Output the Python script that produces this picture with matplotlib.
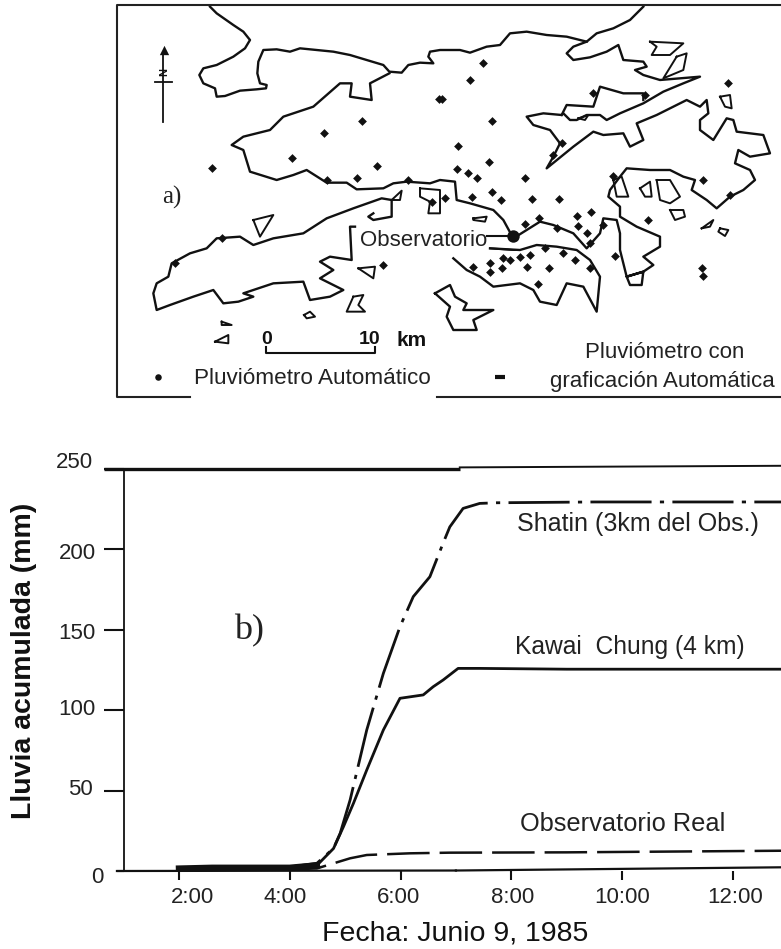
import numpy as np
import matplotlib
matplotlib.use("Agg")
import matplotlib.pyplot as plt
from matplotlib.transforms import ScaledTranslation

plt.rcParams['font.family'] = ['Liberation Sans', 'DejaVu Sans']

# rain curves, hours / mm
shatin_t = [2.0, 2.6, 3.4, 4.0, 4.49, 4.79, 4.91, 5.09, 5.39, 5.69, 5.99, 6.23, 6.53, 6.77, 6.89, 7.13, 7.43, 7.73, 9.5, 11.0, 12.87]
shatin_y = [2, 2.5, 2.5, 2.5, 4.8, 14.1, 23.4, 44.2, 87.7, 122.9, 151.9, 170.6, 183, 204, 214, 225.5, 228.6, 229, 229.5, 229.5, 229.5]
kawai_t = [2.0, 2.6, 3.4, 4.0, 4.49, 4.79, 4.97, 5.15, 5.39, 5.69, 5.99, 6.41, 6.59, 6.77, 7.04, 7.43, 9.0, 12.87]
kawai_y = [1.5, 2, 2, 2, 3.5, 14, 27.6, 42.1, 62.8, 87.7, 107.4, 109.5, 114.6, 118.8, 126, 126, 125.5, 125.5]
obs_t = [2.0, 3.0, 4.0, 4.49, 5.09, 5.39, 6.17, 6.89, 9.0, 12.87]
obs_y = [1, 1, 1, 1.6, 7.9, 9.95, 11, 11.4, 11.6, 12.6]

yticks = [0, 50, 100, 150, 200, 250]
xticks = [2, 4, 6, 8, 10, 12]
xlabels = ['2:00', '4:00', '6:00', '8:00', '10:00', '12:00']
xlabel_shift = [14, -5, -2, 1, 0, 2]
ylabel_shift = [(8, -4), (-3, 4), (0, 3), (0, -1), (0, -2), (-3, 9)]

# map outlines, traced on two 3x crops of the map (left crop / right crop)
main1 = [(330, 20), (350, 40), (400, 75), (430, 95), (450, 120), (435, 145), (400, 170), (350, 195), (310, 205), (298, 225),
         (310, 250), (345, 265), (350, 290), (375, 288), (420, 272), (470, 268), (498, 265), (500, 255), (480, 250), (472, 220),
         (475, 185), (490, 150), (530, 148), (570, 155), (600, 145), (650, 150), (700, 155), (750, 165), (800, 180), (850, 195),
         (868, 215), (905, 218), (925, 195), (960, 188), (1000, 190), (985, 170), (990, 155), (1020, 150)]
main2 = [(90, 150), (120, 158), (170, 140), (210, 135), (240, 100), (290, 95), (350, 105), (410, 110), (470, 125), (500, 100),
         (550, 85), (600, 60), (640, 20)]
inlet2 = [(470, 125), (430, 140), (410, 160), (430, 180), (480, 172), (530, 155), (565, 135), (580, 180), (640, 185), (650, 200),
          (615, 210), (640, 225), (690, 240), (810, 230), (760, 250), (700, 275), (640, 310), (570, 340), (530, 360), (510, 345),
          (470, 345), (440, 360), (420, 360), (400, 340), (395, 345), (340, 340), (290, 350), (310, 375), (360, 390), (390, 430),
          (370, 470), (350, 505), (430, 440), (490, 395), (520, 405), (580, 400), (600, 440), (640, 420), (620, 370), (680, 345),
          (770, 300), (810, 320), (830, 300), (835, 340), (810, 360), (810, 390), (850, 420), (890, 355), (910, 360), (920, 395),
          (1000, 405), (1020, 460), (960, 470), (925, 450), (915, 490), (960, 510), (975, 540), (940, 570), (900, 590), (860, 625),
          (830, 600), (785, 570), (795, 540), (760, 530), (720, 510), (660, 510), (590, 505), (570, 530), (540, 570), (535, 590),
          (570, 620), (570, 650), (620, 680), (690, 710), (690, 740), (640, 770), (670, 795), (640, 815), (590, 830), (600, 855),
          (635, 855), (640, 815)]
upper2 = [(395, 345), (410, 315), (490, 320), (510, 260), (580, 280), (640, 280), (640, 300)]
south2 = [(590, 830), (570, 750), (570, 700), (560, 660), (520, 655), (510, 700), (470, 745), (430, 700), (370, 675), (330, 665),
          (290, 690), (250, 715), (220, 660), (190, 630), (120, 610), (80, 600), (75, 545), (30, 540), (0, 550)]
south1 = [(920, 545), (880, 550), (850, 565), (770, 568), (740, 548), (680, 548), (620, 510), (580, 525), (530, 540), (450, 515),
          (430, 450), (395, 435), (430, 410), (510, 390), (550, 350), (640, 320), (720, 250), (755, 250), (750, 290), (815, 300),
          (810, 250), (868, 220)]
lantau1 = [(820, 640), (805, 650), (820, 660), (875, 650), (875, 600), (845, 595), (760, 625), (680, 655), (610, 700), (520, 715),
           (460, 735), (420, 710), (350, 715), (320, 745), (270, 760), (215, 790), (205, 830), (170, 850), (160, 880), (170, 930),
           (210, 915), (280, 890), (340, 870), (370, 910), (415, 905), (460, 890), (430, 880), (520, 850), (610, 845), (630, 900),
           (690, 890), (730, 870), (660, 835), (700, 810), (660, 785), (690, 770), (755, 780), (750, 680), (765, 680)]
hkisland2 = [(70, 775), (110, 810), (150, 830), (190, 860), (270, 850), (310, 870), (330, 905), (380, 915), (410, 850), (460, 860),
             (500, 935), (510, 830), (480, 780), (440, 750), (380, 740), (320, 735), (270, 750), (180, 745)]
lamma2 = [(15, 880), (60, 855), (75, 890), (110, 910), (100, 930), (190, 930), (130, 960), (140, 990), (70, 990), (50, 950),
          (60, 920), (15, 880)]
islands1 = [[(460, 660), (520, 645), (480, 710), (460, 660)],
            [(775, 805), (825, 800), (820, 835), (775, 805)],
            [(612, 945), (630, 935), (645, 950), (620, 955), (612, 945)],
            [(760, 890), (790, 885), (775, 915), (795, 935), (740, 935), (760, 890)],
            [(345, 1025), (385, 1005), (385, 1030), (345, 1025)],
            [(365, 965), (395, 975), (365, 975), (365, 965)],
            [(875, 600), (905, 572), (900, 600), (875, 600)],
            [(960, 565), (1020, 570), (1020, 640), (985, 640), (990, 605), (960, 590), (960, 565)]]
islands2 = [[(130, 655), (170, 650), (165, 665), (130, 660), (130, 655)],
            [(630, 565), (660, 545), (665, 590), (645, 590), (630, 565)],
            [(680, 540), (720, 540), (750, 590), (720, 610), (690, 600), (680, 540)],
            [(720, 630), (760, 630), (765, 650), (735, 660), (720, 630)],
            [(815, 685), (850, 660), (840, 680), (815, 685)],
            [(870, 685), (895, 690), (885, 708), (865, 695), (870, 685)],
            [(870, 290), (900, 285), (905, 325), (885, 320), (870, 290)],
            [(660, 125), (760, 130), (720, 165), (665, 165), (680, 140), (660, 125)],
            [(740, 170), (770, 160), (760, 210), (700, 235), (740, 170)],
            [(550, 540), (575, 530), (595, 590), (560, 590), (550, 540)],
            [(445, 355), (475, 345), (465, 360), (445, 355)],
            [(180, 745), (250, 750), (270, 750)]]

stations1 = [(785, 362), (672, 400), (575, 475), (830, 497), (770, 535), (680, 540), (925, 540), (995, 605), (1018, 297), (335, 503),
             (225, 790), (365, 715), (848, 795)]
stations2 = [(160, 190), (120, 240), (35, 297), (185, 362), (85, 437), (178, 487), (80, 507), (115, 518), (140, 535), (285, 535),
             (185, 577), (125, 590), (212, 600), (305, 597), (388, 597), (45, 595), (440, 648), (482, 635), (328, 653), (285, 672),
             (380, 685), (445, 678), (470, 700), (520, 675), (480, 730), (655, 660), (550, 527), (818, 540), (900, 585), (395, 430),
             (370, 465), (345, 745), (398, 760), (435, 780), (480, 805), (358, 803), (292, 800), (220, 775), (240, 780), (270, 770),
             (300, 765), (180, 790), (180, 815), (130, 800), (215, 805), (325, 853), (555, 768), (815, 805), (818, 828), (490, 278),
             (645, 285), (893, 248)]


def z1(pts):
    return [(x / 3 + 100, y / 3) for x, y in pts]


def z2(pts):
    return [(x / 3 + 430, y / 3) for x, y in pts]


def outline(ax, pts, lw=1.7):
    a = np.array(pts)
    ax.plot(a[:, 0], a[:, 1], color='#111111', lw=lw, solid_joinstyle='round')


fig = plt.figure(figsize=(7.81, 9.49), dpi=100)

# panel a: drawn in image pixels
m = fig.add_axes([0, 0, 1, 1])
m.set_xlim(0, 781)
m.set_ylim(949, 0)
m.axis('off')

outline(m, z1(main1) + z2(main2))
outline(m, z2(inlet2) + z2(south2) + z1(south1))
outline(m, z2(upper2))
outline(m, z1(lantau1))
outline(m, z2(hkisland2))
outline(m, z2(lamma2))
for isl in islands1:
    outline(m, z1(isl), 1.4)
for isl in islands2:
    outline(m, z2(isl), 1.4)

st = np.array(z1(stations1) + z2(stations2))
m.scatter(st[:, 0], st[:, 1], s=20, color='#111111', marker='D', linewidths=0)
m.scatter([513], [236], s=80, color='#111111', marker='o', linewidths=0)

# frame with the gap under the legend
m.plot([190, 117, 117, 781], [397, 397, 5, 5], color='#222222', lw=1.5)
m.plot([437, 781], [397, 397], color='#222222', lw=1.5)

# north arrow and scale
m.plot([163, 163], [52, 122], color='#111111', lw=1.3)
m.plot([155, 172], [82, 82], color='#111111', lw=1.3)
m.scatter([164], [50], marker='^', s=45, color='#111111', linewidths=0)
m.text(164, 72, 'N', rotation=90, ha='center', va='center', fontsize=8, weight='bold', color='#111111')
m.plot([266, 266, 375, 375], [347, 353, 353, 347], color='#111111', lw=1.5)
m.plot([487, 513], [236, 236], color='#111111', lw=1.5)

m.text(162, 197, 'a)', family='Liberation Serif', fontsize=18, ha='left', va='center', color='#222222')
m.text(360, 240, 'Observatorio', fontsize=16, ha='left', va='center', color='#222222')
m.text(267, 340, '0', fontsize=14, weight='bold', ha='center', va='center', color='#111111')
m.text(359, 340, '10', fontsize=14, weight='bold', ha='left', va='center', color='#111111')
m.text(396, 340, 'km', fontsize=15, weight='bold', ha='left', va='center', color='#111111')
m.text(194, 379, 'Pluviómetro Automático', fontsize=16.2, ha='left', va='center', color='#222222')
m.text(585, 353, 'Pluviómetro con', fontsize=16, ha='left', va='center', color='#222222')
m.text(550, 381, 'graficación Automática', fontsize=16, ha='left', va='center', color='#222222')
m.scatter([158], [377], s=22, color='#111111', linewidths=0)
m.plot([495, 505], [377, 377], color='#111111', lw=3, solid_capstyle='butt')

# panel b
ax = fig.add_axes([124 / 781, 1 - 871 / 949, 1 - 124 / 781, (871 - 469) / 949])
ax.patch.set_alpha(0)
ax.set_xlim(1.007, 12.87)
ax.set_ylim(0, 250)

ax.plot(shatin_t, shatin_y, color='#111111', lw=2.0, linestyle=(0, (22, 3, 1.5, 3)))
ax.plot(kawai_t, kawai_y, color='#111111', lw=2.0)
ax.plot(obs_t, obs_y, color='#111111', lw=1.8, linestyle=(0, (17, 4)))
ax.plot(kawai_t[:5], kawai_y[:5], color='#111111', lw=4.6)

# scan is slightly tilted, so the long axis lines drift up on the right
ax.plot([0.65, 7.07], [250, 250], color='#111111', lw=2.4, clip_on=False, solid_capstyle='butt')
ax.plot([7.07, 12.87], [251, 252], color='#111111', lw=1.4, clip_on=False)
ax.plot([7.0, 12.87], [0.3, 2.3], color='#111111', lw=1.6, clip_on=False)
ax.plot([0.88, 7.0], [0, 0.3], color='#111111', lw=1.6, clip_on=False)

for s in ['right', 'top', 'bottom']:
    ax.spines[s].set_visible(False)
ax.spines['left'].set_linewidth(1.3)
ax.spines['left'].set_color('#111111')

ax.set_yticks(yticks)
ax.set_xticks(xticks)
ax.set_xticklabels(xlabels)
ax.tick_params(axis='y', length=14.5, width=1.5, pad=6, labelsize=16, labelcolor='#222222', color='#111111')
ax.tick_params(axis='x', length=6.5, width=1.5, pad=5, labelsize=16, labelcolor='#222222', color='#111111')
ax.yaxis.get_major_ticks()[0].tick1line.set_markersize(5)

for lab, dx in zip(ax.get_xticklabels(), xlabel_shift):
    lab.set_transform(lab.get_transform() + ScaledTranslation(dx / 100, 0, fig.dpi_scale_trans))
for lab, (dx, dy) in zip(ax.get_yticklabels(), ylabel_shift):
    lab.set_transform(lab.get_transform() + ScaledTranslation(dx / 100, dy / 100, fig.dpi_scale_trans))

m.text(24, 661, 'Lluvia acumulada (mm)', rotation=90, fontsize=20.5, weight='bold', ha='center', va='center', color='#111111')
m.text(322, 933, 'Fecha: Junio 9, 1985', fontsize=20.5, ha='left', va='center', color='#111111')
m.text(234, 631, 'b)', family='Liberation Serif', fontsize=26, ha='left', va='center', color='#222222')
m.text(517, 524, 'Shatin (3km del Obs.)', fontsize=18, ha='left', va='center', color='#222222')
m.text(515, 647, 'Kawai  Chung (4 km)', fontsize=17.7, ha='left', va='center', color='#222222')
m.text(520, 824, 'Observatorio Real', fontsize=18.3, ha='left', va='center', color='#222222')

fig.savefig('out.png', dpi=100)
